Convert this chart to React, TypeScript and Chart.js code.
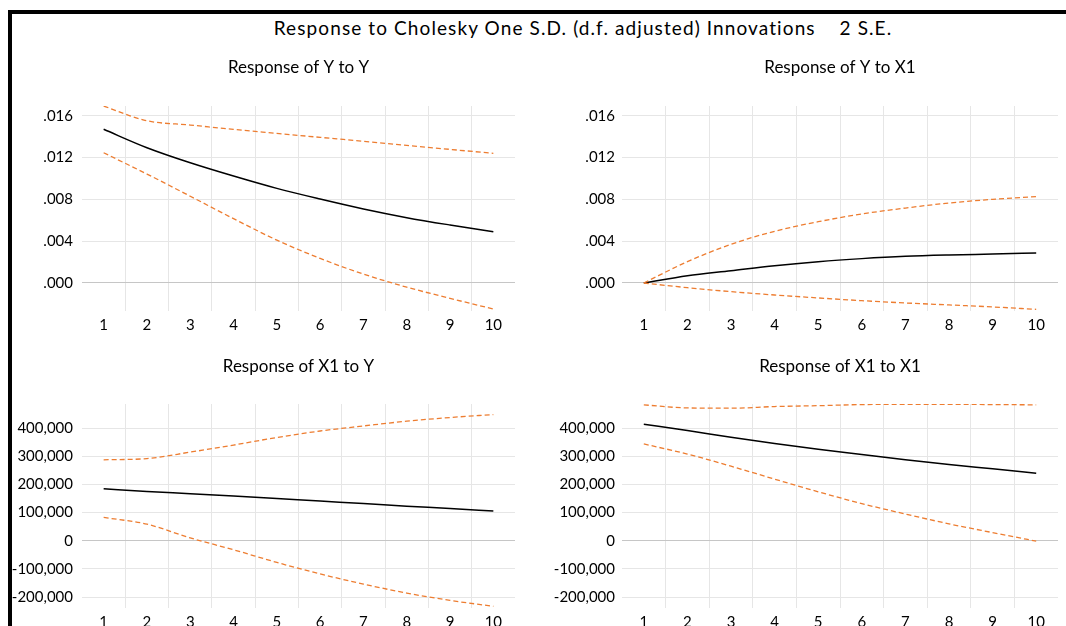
import React, { useEffect, useRef } from "react";
import { Chart, registerables } from "chart.js";

Chart.register(...registerables);

const mainTitle = "Response to Cholesky One S.D. (d.f. adjusted) Innovations    2 S.E.";
const periods = ["1", "2", "3", "4", "5", "6", "7", "8", "9", "10"];

// Response of Y to Y
const yToY = [0.0147, 0.01294, 0.0115, 0.01023, 0.00905, 0.00803, 0.00708, 0.00625, 0.00555, 0.00491];
const yToYUpper = [0.01692, 0.01552, 0.01511, 0.01469, 0.01431, 0.01393, 0.01355, 0.01316, 0.01278, 0.0124];
const yToYLower = [0.01246, 0.01042, 0.0083, 0.00615, 0.0041, 0.00235, 0.00085, -0.0004, -0.00147, -0.00249];

// Response of Y to X1
const yToX1 = [0, 0.0007, 0.00118, 0.00166, 0.00204, 0.00233, 0.00255, 0.00268, 0.00277, 0.00287];
const yToX1Upper = [0, 0.00204, 0.0037, 0.00494, 0.00586, 0.0066, 0.00717, 0.00765, 0.008, 0.00826];
const yToX1Lower = [0, -0.00045, -0.00083, -0.00115, -0.00143, -0.00169, -0.00191, -0.0021, -0.00229, -0.00252];

// Response of X1 to Y
const x1ToY = [184600, 175000, 167000, 158600, 150000, 141000, 132500, 123000, 115000, 105300];
const x1ToYUpper = [287600, 292000, 315000, 340000, 367000, 390000, 408000, 425000, 438000, 448500];
const x1ToYLower = [82800, 59000, 10000, -32000, -77000, -118000, -154000, -186000, -212000, -233000];

// Response of X1 to X1
const x1ToX1 = [414000, 391700, 368000, 345600, 325000, 306500, 287600, 271000, 255600, 240000];
const x1ToX1Upper = [482800, 472000, 471000, 477000, 480000, 484000, 485000, 485000, 484000, 483000];
const x1ToX1Lower = [344000, 308000, 265000, 219000, 174000, 132000, 95000, 60000, 29000, -1500];

const topTicks = [0, 0.004, 0.008, 0.012, 0.016];
const bottomTicks = [-200000, -100000, 0, 100000, 200000, 300000, 400000];
const topRange = [-0.00268, 0.01693];
const bottomRange = [-239000, 486000];

const FONT = "Lato, 'Open Sans', sans-serif";
const ORANGE = "#ED7D31";

const fmtSmall = (v: number) => v.toFixed(3).replace(/^(-?)0\./, "$1.");
const fmtBig = (v: number) => v.toLocaleString("en-US");

type PanelProps = {
  left: number;
  top: number;
  width: number;
  height: number;
  title: string;
  mid: number[];
  upper: number[];
  lower: number[];
  range: number[];
  ticks: number[];
  fmt: (v: number) => string;
  yAxisWidth: number;
  yPad: number;
  xAxisHeight: number;
  titlePadTop: number;
  titlePadBottom: number;
  padRight: number;
};

function Panel(p: PanelProps) {
  const ref = useRef<HTMLCanvasElement | null>(null);
  useEffect(() => {
    if (!ref.current) return;
    const dashed = (data: number[]) => ({
      data,
      borderColor: ORANGE,
      borderWidth: 1.3,
      borderDash: [5, 3],
      pointRadius: 0,
      fill: false,
      cubicInterpolationMode: "monotone" as const,
    });
    const chart = new Chart(ref.current, {
      type: "line",
      data: {
        labels: periods,
        datasets: [
          dashed(p.upper),
          dashed(p.lower),
          {
            data: p.mid,
            borderColor: "#000000",
            borderWidth: 1.5,
            pointRadius: 0,
            fill: false,
            cubicInterpolationMode: "monotone" as const,
          },
        ],
      },
      options: {
        animation: false,
        responsive: false,
        events: [],
        layout: { padding: { left: 0, right: p.padRight, top: 0, bottom: 0 } },
        plugins: {
          legend: { display: false },
          tooltip: { enabled: false },
          title: {
            display: true,
            text: p.title,
            fullSize: false,
            color: "#000000",
            font: { family: FONT, size: 17, weight: "normal" },
            padding: { top: p.titlePadTop, bottom: p.titlePadBottom },
          },
        },
        scales: {
          x: {
            type: "category",
            offset: true,
            border: { display: false },
            grid: {
              offset: true,
              drawTicks: false,
              lineWidth: 1,
              color: (ctx: any) =>
                ctx.index === undefined || ctx.index === 0 ? "rgba(0,0,0,0)" : "#e6e6e6",
            },
            ticks: {
              color: "#000000",
              padding: 5,
              maxRotation: 0,
              autoSkip: false,
              font: { family: FONT, size: 15 },
            },
            afterFit: (scale: any) => {
              scale.height = p.xAxisHeight;
            },
          },
          y: {
            type: "linear",
            min: p.range[0],
            max: p.range[1],
            border: { display: false },
            grid: {
              drawTicks: false,
              lineWidth: 1,
              color: (ctx: any) =>
                ctx.tick && Math.abs(ctx.tick.value) < 1e-12 ? "#c6c6c6" : "#e6e6e6",
            },
            ticks: {
              color: "#000000",
              padding: p.yPad,
              font: { family: FONT, size: 15 },
              callback: (v: any) => p.fmt(Number(v)),
            },
            afterBuildTicks: (scale: any) => {
              scale.ticks = p.ticks.map((v) => ({ value: v }));
            },
            afterFit: (scale: any) => {
              scale.width = p.yAxisWidth;
            },
          },
        },
      },
    });
    return () => chart.destroy();
  }, []);
  return (
    <canvas
      ref={ref}
      width={p.width}
      height={p.height}
      style={{
        position: "absolute",
        left: p.left,
        top: p.top,
        width: p.width,
        height: p.height,
        display: "block",
      }}
    />
  );
}

export default function App() {
  return (
    <div
      style={{
        position: "absolute",
        left: 0,
        top: 0,
        width: 1066,
        height: 626,
        overflow: "hidden",
        background: "#ffffff",
      }}
    >
      <div
        style={{
          position: "absolute",
          left: 8,
          top: 10,
          width: 1200,
          height: 800,
          borderLeft: "4px solid #000",
          borderTop: "4px solid #000",
          boxSizing: "border-box",
        }}
      />
      <div
        style={{
          position: "absolute",
          left: 183,
          top: 16,
          width: 800,
          textAlign: "center",
          fontFamily: FONT,
          fontSize: 19,
          letterSpacing: "1.1px",
          lineHeight: "24px",
          color: "#000",
          whiteSpace: "pre",
        }}
      >
        {mainTitle}
      </div>
      <Panel
        left={12} top={40} width={518} height={300}
        title="Response of Y to Y"
        mid={yToY} upper={yToYUpper} lower={yToYLower}
        range={topRange} ticks={topTicks} fmt={fmtSmall}
        yAxisWidth={70} yPad={9} xAxisHeight={29}
        titlePadTop={17.8} titlePadBottom={27.8} padRight={15}
      />
      <Panel
        left={540} top={40} width={526} height={300}
        title="Response of Y to X1"
        mid={yToX1} upper={yToX1Upper} lower={yToX1Lower}
        range={topRange} ticks={topTicks} fmt={fmtSmall}
        yAxisWidth={82} yPad={7} xAxisHeight={29}
        titlePadTop={17.8} titlePadBottom={27.8} padRight={8}
      />
      <Panel
        left={12} top={340} width={518} height={286}
        title="Response of X1 to Y"
        mid={x1ToY} upper={x1ToYUpper} lower={x1ToYLower}
        range={bottomRange} ticks={bottomTicks} fmt={fmtBig}
        yAxisWidth={70} yPad={9} xAxisHeight={18}
        titlePadTop={16.8} titlePadBottom={26.8} padRight={15}
      />
      <Panel
        left={540} top={340} width={526} height={286}
        title="Response of X1 to X1"
        mid={x1ToX1} upper={x1ToX1Upper} lower={x1ToX1Lower}
        range={bottomRange} ticks={bottomTicks} fmt={fmtBig}
        yAxisWidth={82} yPad={7} xAxisHeight={18}
        titlePadTop={16.8} titlePadBottom={26.8} padRight={8}
      />
    </div>
  );
}
